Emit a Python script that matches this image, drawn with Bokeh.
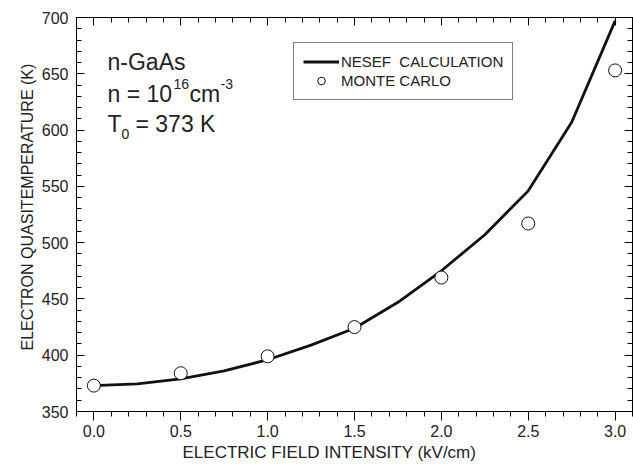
from bokeh.plotting import figure
from bokeh.models import (Range1d, FixedTicker, LinearAxis, PrintfTickFormatter,
                          Label, Legend, LegendItem, Title)
from bokeh.embed import file_html
from bokeh.resources import INLINE

# ---- data ----
calc_field = [0.0, 0.25, 0.5, 0.75, 1.0, 1.25, 1.5, 1.75, 2.0, 2.25, 2.5, 2.75, 3.0]
calc_temp = [373, 374.5, 379, 386, 396, 409, 424, 447, 475, 507, 546, 607, 697]
mc_field = [0.0, 0.5, 1.0, 1.5, 2.0, 2.5, 3.0]
mc_temp = [373, 384, 399, 425, 469, 517, 653]
x_major = [0.0, 0.5, 1.0, 1.5, 2.0, 2.5, 3.0]
x_minor = [round(-0.1 + 0.1 * i, 2) for i in range(33)]
y_major = [350, 400, 450, 500, 550, 600, 650, 700]
y_minor = list(range(350, 701, 10))
x_title = "ELECTRIC FIELD INTENSITY (kV/cm)"
y_title = "ELECTRON QUASITEMPERATURE (K)"

FONT = "Liberation Sans"
TXT = "#222222"

p = figure(width=633, height=465, output_backend="svg", toolbar_location=None,
           x_range=Range1d(-0.1, 3.1), y_range=Range1d(350, 700),
           min_border_left=76, min_border_right=1, min_border_top=17,
           min_border_bottom=54, background_fill_color="white",
           border_fill_color="white")
p.grid.visible = False
p.outline_line_color = "black"
p.outline_line_width = 1

xt = FixedTicker(ticks=x_major, minor_ticks=x_minor)
yt = FixedTicker(ticks=y_major, minor_ticks=y_minor)

# bottom axis
xa = p.xaxis[0]
xa.ticker = xt
xa.formatter = PrintfTickFormatter(format="%.1f")
xa.major_tick_out = 9
xa.major_tick_in = 0
xa.minor_tick_out = 5
xa.minor_tick_in = 0
xa.major_label_standoff = 4

# left axis
ya = p.yaxis[0]
ya.ticker = yt
ya.major_tick_out = 0
ya.major_tick_in = 8
ya.minor_tick_out = 0
ya.minor_tick_in = 5
ya.major_label_standoff = 8

for ax in (xa, ya):
    ax.axis_line_color = "black"
    ax.major_tick_line_color = "black"
    ax.minor_tick_line_color = "black"
    ax.major_label_text_font = FONT
    ax.major_label_text_font_size = "16px"
    ax.major_label_text_color = TXT

# top and right axes: inward ticks, no labels
top = LinearAxis(ticker=xt, major_tick_in=8, major_tick_out=0, minor_tick_in=5,
                 minor_tick_out=0, major_label_text_font_size="1px",
                 major_label_overrides={t: "" for t in x_major},
                 major_label_standoff=0)
right = LinearAxis(ticker=yt, major_tick_in=8, major_tick_out=0, minor_tick_in=5,
                   minor_tick_out=0, major_label_text_font_size="1px",
                   major_label_overrides={t: "" for t in y_major},
                   major_label_standoff=0)
p.add_layout(top, "above")
p.add_layout(right, "right")

# axis titles (side titles, offset like the reference)
p.add_layout(Title(text=x_title, align="left", offset=106, standoff=2,
                   text_font=FONT, text_font_size="17px", text_font_style="normal",
                   text_color=TXT), "below")
p.add_layout(Title(text=y_title, align="left", offset=61, standoff=6,
                   text_font=FONT, text_font_size="16px", text_font_style="normal",
                   text_color=TXT), "left")

# data
line_r = p.line(calc_field, calc_temp, line_color="#111111", line_width=2.8,
                line_join="round")
mc_r = p.scatter(mc_field, mc_temp, marker="circle", size=13, fill_color="white",
                 line_color="#111111", line_width=1)

legend = Legend(items=[LegendItem(label="NESEF  CALCULATION", renderers=[line_r]),
                       LegendItem(label="MONTE CARLO", renderers=[mc_r])],
                location=(217, 311), orientation="vertical",
                border_line_color="black", border_line_width=1,
                background_fill_color="white", background_fill_alpha=1,
                label_text_font=FONT, label_text_font_size="15px",
                label_text_color=TXT, glyph_width=36, glyph_height=19,
                label_height=19, spacing=0, padding=9, label_standoff=2,
                margin=0)
p.add_layout(legend, "center")

# annotation text (screen units relative to frame, bottom-up)
FL, FB = 76, 411


def lab(text, px, py, size):
    p.add_layout(Label(x=px - FL, y=FB - py, x_units="screen", y_units="screen",
                       text=text, text_font=FONT, text_font_size=size,
                       text_color=TXT, text_baseline="alphabetic",
                       text_align="left"))


lab("n-GaAs", 107, 61, "23px")
lab("n = 10", 107, 93, "23px")
lab("16", 173, 83, "14px")
lab("cm", 189, 93, "23px")
lab("-3", 220, 83, "14px")
lab("T", 107, 123, "23px")
lab("0", 121, 133, "14px")
lab("= 373 K", 135, 123, "23px")

open("out.html", "w").write(file_html(p, INLINE))
